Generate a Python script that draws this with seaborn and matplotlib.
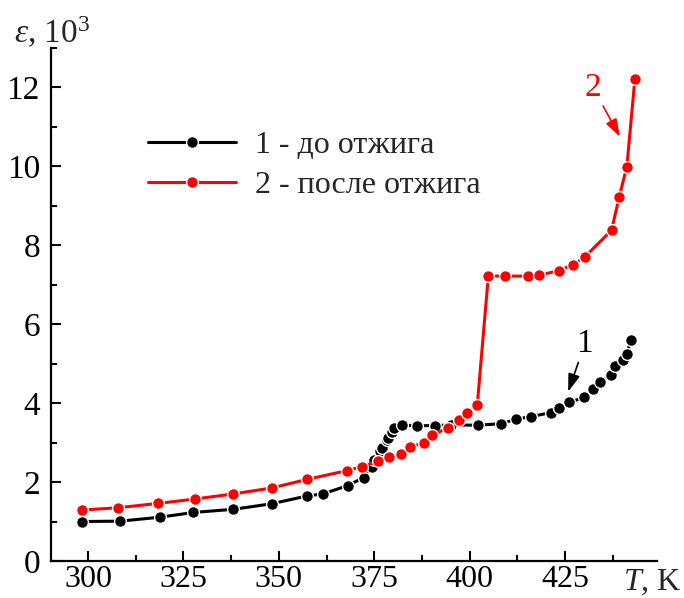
import matplotlib
matplotlib.use("Agg")
import matplotlib.pyplot as plt
import seaborn as sns
import pandas as pd
from matplotlib.lines import Line2D
from matplotlib.ticker import MultipleLocator

# ---- data ----
T1 = [298.3, 308.4, 318.9, 327.6, 338.1, 348.1, 357.5, 361.6,
      368.0, 372.2, 374.3, 375.0, 376.5, 377.0, 378.3, 378.7, 379.6, 380.3,
      382.2, 386.1, 391.0, 395.2, 402.1, 408.2, 412.1, 416.1, 421.3, 423.3,
      426.1, 430.1, 432.2, 434.2, 437.1, 438.2, 440.3, 441.3, 442.2]
E1 = [1.00, 1.01, 1.11, 1.23, 1.31, 1.45, 1.65, 1.70,
      1.91, 2.11, 2.38, 2.55, 2.80, 2.86, 3.07, 3.11, 3.26, 3.36,
      3.44, 3.43, 3.43, 3.45, 3.44, 3.48, 3.59, 3.66, 3.76, 3.88,
      4.02, 4.15, 4.37, 4.53, 4.72, 4.95, 5.10, 5.25, 5.61]

T2 = [298.3, 307.9, 318.4, 328.0, 338.1, 348.1, 357.5, 367.8, 371.7, 376.0,
      379.0, 382.0, 384.3, 388.1, 390.2, 394.4, 397.2, 399.2, 402.0, 404.9,
      409.3, 415.2, 418.3, 423.3, 427.2, 430.2, 437.2, 439.2, 441.2, 443.3]
E2 = [1.29, 1.35, 1.46, 1.57, 1.70, 1.85, 2.07, 2.29, 2.39, 2.53,
      2.64, 2.72, 2.88, 3.00, 3.19, 3.38, 3.57, 3.75, 3.95, 7.22,
      7.22, 7.22, 7.24, 7.36, 7.51, 7.71, 8.38, 9.23, 9.99, 12.21]

labels = ["1 - до отжига", "2 - после отжига"]
colors = ["black", "#ff0000"]
x_ticks = [300, 325, 350, 375, 400, 425]
y_ticks = [0, 2, 4, 6, 8, 10, 12]

sns.set_theme(style="white")
plt.rcParams["font.family"] = ["Liberation Serif", "DejaVu Serif"]
plt.rcParams["mathtext.fontset"] = "custom"
plt.rcParams["mathtext.rm"] = "Liberation Serif"
plt.rcParams["mathtext.it"] = "Liberation Serif:italic"

fig = plt.figure(figsize=(6.84, 5.98), dpi=100)
ax = fig.add_axes([51/684, 1-561/598, 606/684, 513/598])

df1 = pd.DataFrame({"T": T1, "eps": E1})
df2 = pd.DataFrame({"T": T2, "eps": E2})

mk = dict(marker="o", markersize=8.5, markeredgecolor="white", markeredgewidth=1.0)
sns.lineplot(data=df1, x="T", y="eps", ax=ax, color=colors[0], lw=2.2,
             sort=False, estimator=None, zorder=3, **mk)
sns.lineplot(data=df2, x="T", y="eps", ax=ax, color=colors[1], lw=2.2,
             sort=False, estimator=None, zorder=4, **mk)

ax.set_xlim(290.3, 449.1)
ax.set_ylim(0, 13.0)
ax.set_xticks(x_ticks)
ax.set_yticks(y_ticks)
ax.xaxis.set_minor_locator(MultipleLocator(12.5))
ax.yaxis.set_minor_locator(MultipleLocator(1))
ax.set_xlabel("")
ax.set_ylabel("")
for s in ["top", "right"]:
    ax.spines[s].set_visible(False)
for s in ["left", "bottom"]:
    ax.spines[s].set_linewidth(1.6)
    ax.spines[s].set_color("black")
ax.tick_params(which="both", direction="in", width=1.5, colors="black",
               bottom=True, left=True)
ax.tick_params(axis="y", labelsize=24, pad=8)
ax.tick_params(axis="x", labelsize=23, pad=3)
ax.tick_params(which="major", length=7)
ax.tick_params(which="minor", length=4)
ax.set_facecolor("white")

handles = [Line2D([0], [0], color=c, lw=2.2, **mk) for c in colors]
ax.legend(handles, labels, loc="upper left", bbox_to_anchor=(0.16, 0.838),
          frameon=False, fontsize=23, handlelength=2.75, handletextpad=0.6,
          labelspacing=0.32, borderpad=0, borderaxespad=0)

ax.annotate("2", xy=(439.4, 10.75), xytext=(432.3, 12.0), color=colors[1],
            fontsize=24, ha="center", va="center",
            arrowprops=dict(arrowstyle="-|>,head_length=0.45,head_width=0.15",
                            color=colors[1], lw=1.2, shrinkA=0, shrinkB=0))
ax.annotate("1", xy=(425.8, 4.29), xytext=(430.2, 5.5), color="black",
            fontsize=24, ha="center", va="center",
            arrowprops=dict(arrowstyle="-|>,head_length=0.45,head_width=0.15",
                            color="black", lw=1.2, shrinkA=0, shrinkB=0))

fig.text(14/684, 1-43/598, r"$\varepsilon$, 10$^{3}$", fontsize=24,
         ha="left", va="baseline")
fig.text(682/684, 1-590/598, r"$T$, K", fontsize=23, ha="right", va="baseline")

fig.savefig("out.png", dpi=100, facecolor="white")
